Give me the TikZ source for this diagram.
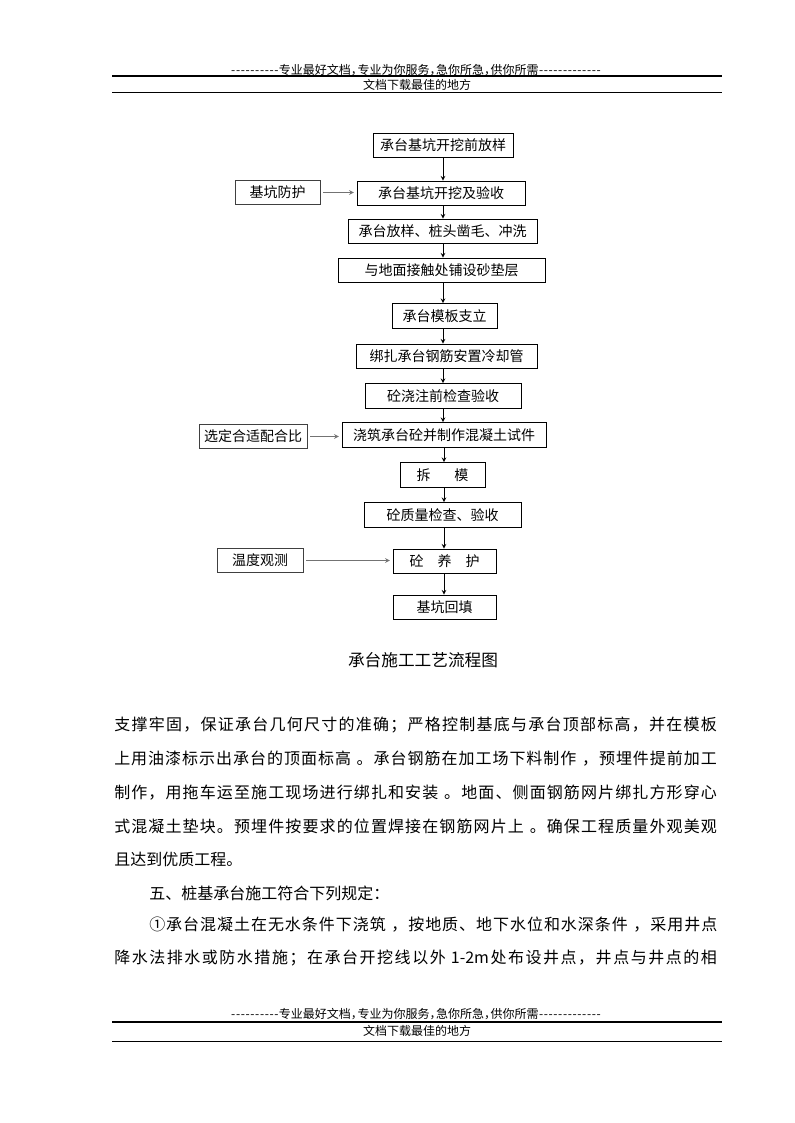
\documentclass[tikz,border=0pt]{standalone}
\usepackage{fontspec}
\setmainfont{Noto Sans CJK SC}
\usepackage{tikz}

\newcommand\headfont{\fontsize{9}{10}\selectfont}
\newcommand\flowfont{\fontsize{10.5}{12}\selectfont}
\newcommand\capfont{\fontsize{12.5}{14}\selectfont}
\newcommand\bodyfont{\fontsize{12}{14}\selectfont}
\newcommand\halfdash[1]{\foreach \k in {1,...,#1}{\makebox[0.4em]{-}}}
\newcommand\halfcomma{\makebox[0.55em][l]{，}}
% spread the characters of one line over a given width
\newcommand\spreadline[2]{\makebox[#1][s]{\spreadfirst#2\relax}}
\def\spreadfirst#1{#1\spreadrest}
\def\spreadrest#1{\ifx\relax#1\else\hfil#1\expandafter\spreadrest\fi}

\begin{document}
\begin{tikzpicture}[
  x=0.75pt, y=-0.75pt,
  stage/.style={rectangle, draw=black, line width=0.75pt, minimum height=18.5pt, inner sep=1pt, align=center, font=\flowfont},
  sidestage/.style={stage, draw=black!75},
  arrow/.style={->, >=stealth, line width=0.6pt, black},
  sidearrow/.style={arrow, black!55, shorten <=2pt, shorten >=2pt},
  headtext/.style={inner sep=0pt, font=\headfont},
  bodyline/.style={anchor=west, inner sep=0pt, font=\bodyfont}
]
  \path[use as bounding box, fill=white] (0,0) rectangle (794,1123);

  % page header
  \node[headtext] (head1) at (416,70) {\halfdash{10}专业最好文档\halfcomma 专业为你服务\halfcomma 急你所急\halfcomma 供你所需\halfdash{13}};
  \node[headtext] (head2) at (417,85) {文档下载最佳的地方};
  \draw[line width=1.6pt] (112,76) -- (722,76);
  \draw[line width=0.75pt] (112,93) -- (722,93);

  % main chain
  \node[stage, minimum width=105pt] (pre) at (443,145.5) {承台基坑开挖前放样};
  \node[stage, minimum width=126pt] (dig) at (441,193.5) {承台基坑开挖及验收};
  \node[stage, minimum width=141.75pt] (lay) at (442.5,231.5) {承台放样、桩头凿毛、冲洗};
  \node[stage, minimum width=155.25pt] (sand) at (441.5,270.5) {与地面接触处铺设砂垫层};
  \node[stage, minimum width=78.75pt] (form) at (444.5,316) {承台模板支立};
  \node[stage, minimum width=135.75pt] (rebar) at (446.5,356.5) {绑扎承台钢筋安置冷却管};
  \node[stage, minimum width=117pt] (check) at (443,396) {砼浇注前检查验收};
  \node[stage, minimum width=153pt] (pour) at (444,435) {浇筑承台砼并制作混凝土试件};
  \node[stage, minimum width=63.75pt] (strip) at (442.5,475) {拆\hspace{1.7em}模};
  \node[stage, minimum width=117.75pt] (qual) at (442.5,515) {砼质量检查、验收};
  \node[stage, minimum width=77.25pt] (cure) at (444.5,561.5) {砼\hspace{1em}养\hspace{1em}护};
  \node[stage, minimum width=77.25pt] (backfill) at (444.5,607.5) {基坑回填};

  % side inputs
  \node[sidestage, minimum width=63.75pt] (guard) at (277.5,192.5) {基坑防护};
  \node[sidestage, minimum width=81pt] (mix) at (253,436.5) {选定合适配合比};
  \node[sidestage, minimum width=64.5pt] (temp) at (260,560.5) {温度观测};

  \draw[arrow] (pre.south) -- (pre.south |- dig.north);
  \draw[arrow] (pre.south |- dig.south) -- (pre.south |- lay.north);
  \draw[arrow] (pre.south |- lay.south) -- (pre.south |- sand.north);
  \draw[arrow] (pre.south |- sand.south) -- (pre.south |- form.north);
  \draw[arrow] (pre.south |- form.south) -- (pre.south |- rebar.north);
  \draw[arrow] (pre.south |- rebar.south) -- (pre.south |- check.north);
  \draw[arrow] (check.south) -- (check.south |- pour.north);
  \draw[arrow] (pour.south) -- (pour.south |- strip.north);
  \draw[arrow] (pour.south |- strip.south) -- (pour.south |- qual.north);
  \draw[arrow] (pour.south |- qual.south) -- (pour.south |- cure.north);
  \draw[arrow] (pour.south |- cure.south) -- (pour.south |- backfill.north);

  \draw[sidearrow] (guard.east) -- (guard.east -| dig.west);
  \draw[sidearrow] (mix.east) -- (mix.east -| pour.west);
  \draw[sidearrow] (temp.east) -- (temp.east -| cure.west);

  % caption and body text
  \node[inner sep=0pt, font=\capfont] (caption) at (423,660) {承台施工工艺流程图};
  \node[bodyline] (line1) at (114,725) {\spreadline{452pt}{支撑牢固，保证承台几何尺寸的准确；严格控制基底与承台顶部标高，并在模板}};
  \node[bodyline] (line2) at (114,759) {\spreadline{452pt}{上用油漆标示出承台的顶面标高{\ }。承台钢筋在加工场下料制作{\ }，预埋件提前加工}};
  \node[bodyline] (line3) at (114,792.5) {\spreadline{452pt}{制作，用拖车运至施工现场进行绑扎和安装{\ }。地面、侧面钢筋网片绑扎方形穿心}};
  \node[bodyline] (line4) at (114,826) {\spreadline{452pt}{式混凝土垫块。预埋件按要求的位置焊接在钢筋网片上{\ }。确保工程质量外观美观}};
  \node[bodyline] (line5) at (114,859.5) {且达到优质工程。};
  \node[bodyline] (line6) at (149,893) {五、桩基承台施工符合下列规定：};
  \node[bodyline] (line7) at (149,925) {\spreadline{426pt}{①承台混凝土在无水条件下浇筑{\ }，按地质、地下水位和水深条件{\ }，采用井点}};
  \node[bodyline] (line8) at (114,958) {\spreadline{452pt}{降水法排水或防水措施；在承台开挖线以外{\ 1-2m}处布设井点，井点与井点的相}};

  % page footer
  \node[headtext] (foot1) at (416,1014) {\halfdash{10}专业最好文档\halfcomma 专业为你服务\halfcomma 急你所急\halfcomma 供你所需\halfdash{13}};
  \node[headtext] (foot2) at (417,1031) {文档下载最佳的地方};
  \draw[line width=1.6pt] (112,1022) -- (722,1022);
  \draw[line width=0.75pt] (112,1041) -- (722,1041);
\end{tikzpicture}
\end{document}
